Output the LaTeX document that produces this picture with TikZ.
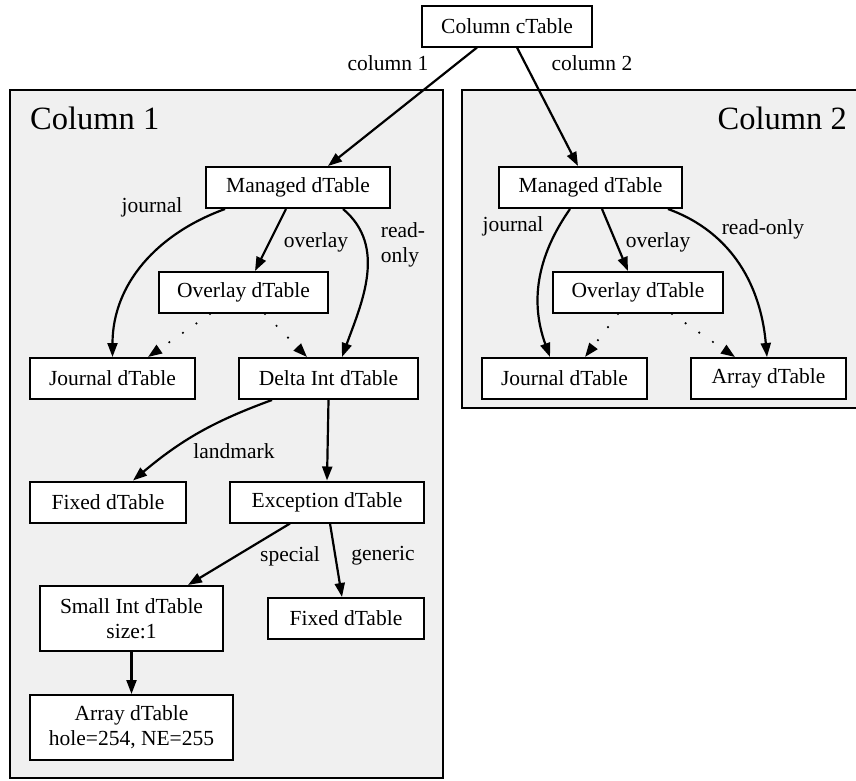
\documentclass[tikz,border=0pt]{standalone}
\usepackage{fontspec}
\setmainfont{Liberation Serif}
\usepackage{tikz}
\usetikzlibrary{arrows.meta, positioning}
\usepackage{color}
\definecolor{Panel-bg}{RGB}{240,240,240}

\begin{document}
\begin{tikzpicture}[x=1pt, y=1pt]
        \tikzset{ tb/.style ={draw=black, line width=2pt, inner sep=0pt, minimum height=41pt, text=black, fill=white, font=\fontsize{21.5}{25}\selectfont} }
        \tikzset{ tt/.style ={tb, minimum height=65pt, align=center} }
        \tikzset{ el/.style ={inner sep=0pt, text=black, font=\fontsize{21.5}{25}\selectfont} }
        \tikzset{ cl/.style ={inner sep=0pt, text=black, font=\fontsize{32.5}{38}\selectfont} }
        \tikzset{ pnl/.style ={draw=black, line width=2pt, fill=Panel-bg} }

        \tikzstyle{lnk}=[-{Triangle[length=14pt,width=10pt]}, line width=2.2pt]
        \tikzstyle{ovr}=[lnk, line width=2.4pt, line cap=round, dash pattern=on 0pt off 16.5pt]

        \newcommand\rmgd{-187.5}
        \newcommand\rovl{-292.5}
        \newcommand\rmid{-378.5}
        \newcommand\rfix{-502}
        \newcommand\rsml{-618.5}

        \useasboundingbox (0,0) rectangle (856,-780);

        % the two column panels
        \draw[pnl] (10,-90) rectangle (443,-778);
        \draw[pnl] (462,-90) rectangle (862,-408);
        \node[cl, anchor=base west] (p1_ttl) at (30,-129) {Column 1};
        \node[cl, anchor=base east] (p2_ttl) at (847,-129) {Column 2};

        \node[tb, minimum width=170pt] (ctab) at (507,-26) {Column cTable};

        % column 1
        \node[tb, minimum width=184pt] (c1_mgd) at (298,\rmgd) {Managed dTable};
        \node[tb, minimum width=169pt] (c1_ovl) at (243.5,\rovl) {Overlay dTable};
        \node[tb, minimum width=165pt] (c1_jrn) at (112.5,\rmid) {Journal dTable};
        \node[tb, minimum width=179pt] (c1_dlt) at (328.5,\rmid) {Delta Int dTable};
        \node[tb, minimum width=156pt] (c1_fx0) at (108,\rfix) {Fixed dTable};
        \node[tb, minimum width=194pt] (c1_exc) at (327,\rfix) {Exception dTable};
        \node[tt, minimum width=183pt] (c1_sml) at (131.5,\rsml) {Small Int dTable\\size:1};
        \node[tb, minimum width=156pt] (c1_fx1) at (346,\rsml) {Fixed dTable};
        \node[tt, minimum width=203pt] (c1_arr) at (131.5,-727.5) {Array dTable\\hole=254, NE=255};

        % column 2
        \node[tb, minimum width=183pt] (c2_mgd) at (590.5,\rmgd) {Managed dTable};
        \node[tb, minimum width=170pt] (c2_ovl) at (638,\rovl) {Overlay dTable};
        \node[tb, minimum width=165pt] (c2_jrn) at (564.5,\rmid) {Journal dTable};
        \node[tb, minimum width=155pt] (c2_arr) at (768.5,\rmid) {Array dTable};

        \draw[lnk] ([xshift=-30pt]ctab.south) -- ([xshift=30pt]c1_mgd.north);
        \draw[lnk] ([xshift=10pt]ctab.south) -- ([xshift=-12.5pt]c2_mgd.north);
        \node[el] (l_col1) at (388,-63) {column 1};
        \node[el] (l_col2) at (592,-63) {column 2};

        \draw[lnk] ([xshift=-73pt]c1_mgd.south) to[out=200,in=90] (c1_jrn.north);
        \draw[lnk] ([xshift=-12pt]c1_mgd.south) -- ([xshift=11.5pt]c1_ovl.north);
        \draw[lnk] ([xshift=45pt]c1_mgd.south) to[out=-40,in=70] ([xshift=13.5pt]c1_dlt.north);
        \draw[ovr] ([xshift=-33.5pt]c1_ovl.south) -- ([xshift=35.5pt]c1_jrn.north);
        \draw[ovr] ([xshift=21.5pt]c1_ovl.south) -- ([xshift=-21.5pt]c1_dlt.north);
        \draw[lnk] ([xshift=-56.5pt]c1_dlt.south) to[out=200,in=40] ([xshift=25pt]c1_fx0.north);
        \draw[lnk] (c1_dlt.south) -- (c1_exc.north);
        \draw[lnk] ([xshift=-37pt]c1_exc.south) -- ([xshift=56.5pt]c1_sml.north);
        \draw[lnk] ([xshift=3pt]c1_exc.south) -- ([xshift=-4pt]c1_fx1.north);
        \draw[lnk] (c1_sml.south) -- (c1_arr.north);

        \node[el] (l_jrn1) at (152,-207) {journal};
        \node[el] (l_ovl1) at (316,-242) {overlay};
        \node[el, align=left] (l_ro1) at (403,-245) {read-\\only};
        \node[el] (l_lmk) at (234,-451) {landmark};
        \node[el] (l_spc) at (290,-556) {special};
        \node[el] (l_gen) at (383,-556) {generic};

        \draw[lnk] ([xshift=-20.5pt]c2_mgd.south) to[out=235,in=110] ([xshift=-14.5pt]c2_jrn.north);
        \draw[lnk] ([xshift=11.5pt]c2_mgd.south) -- ([xshift=-10pt]c2_ovl.north);
        \draw[lnk] ([xshift=77.5pt]c2_mgd.south) to[out=-20,in=95] ([xshift=-1.5pt]c2_arr.north);
        \draw[ovr] ([xshift=-20pt]c2_ovl.south) -- ([xshift=20.5pt]c2_jrn.north);
        \draw[ovr] ([xshift=34pt]c2_ovl.south) -- ([xshift=-33.5pt]c2_arr.north);

        \node[el] (l_jrn2) at (513,-226) {journal};
        \node[el] (l_ovl2) at (658,-242) {overlay};
        \node[el] (l_ro2) at (763,-229) {read-only};
\end{tikzpicture}
\end{document}
